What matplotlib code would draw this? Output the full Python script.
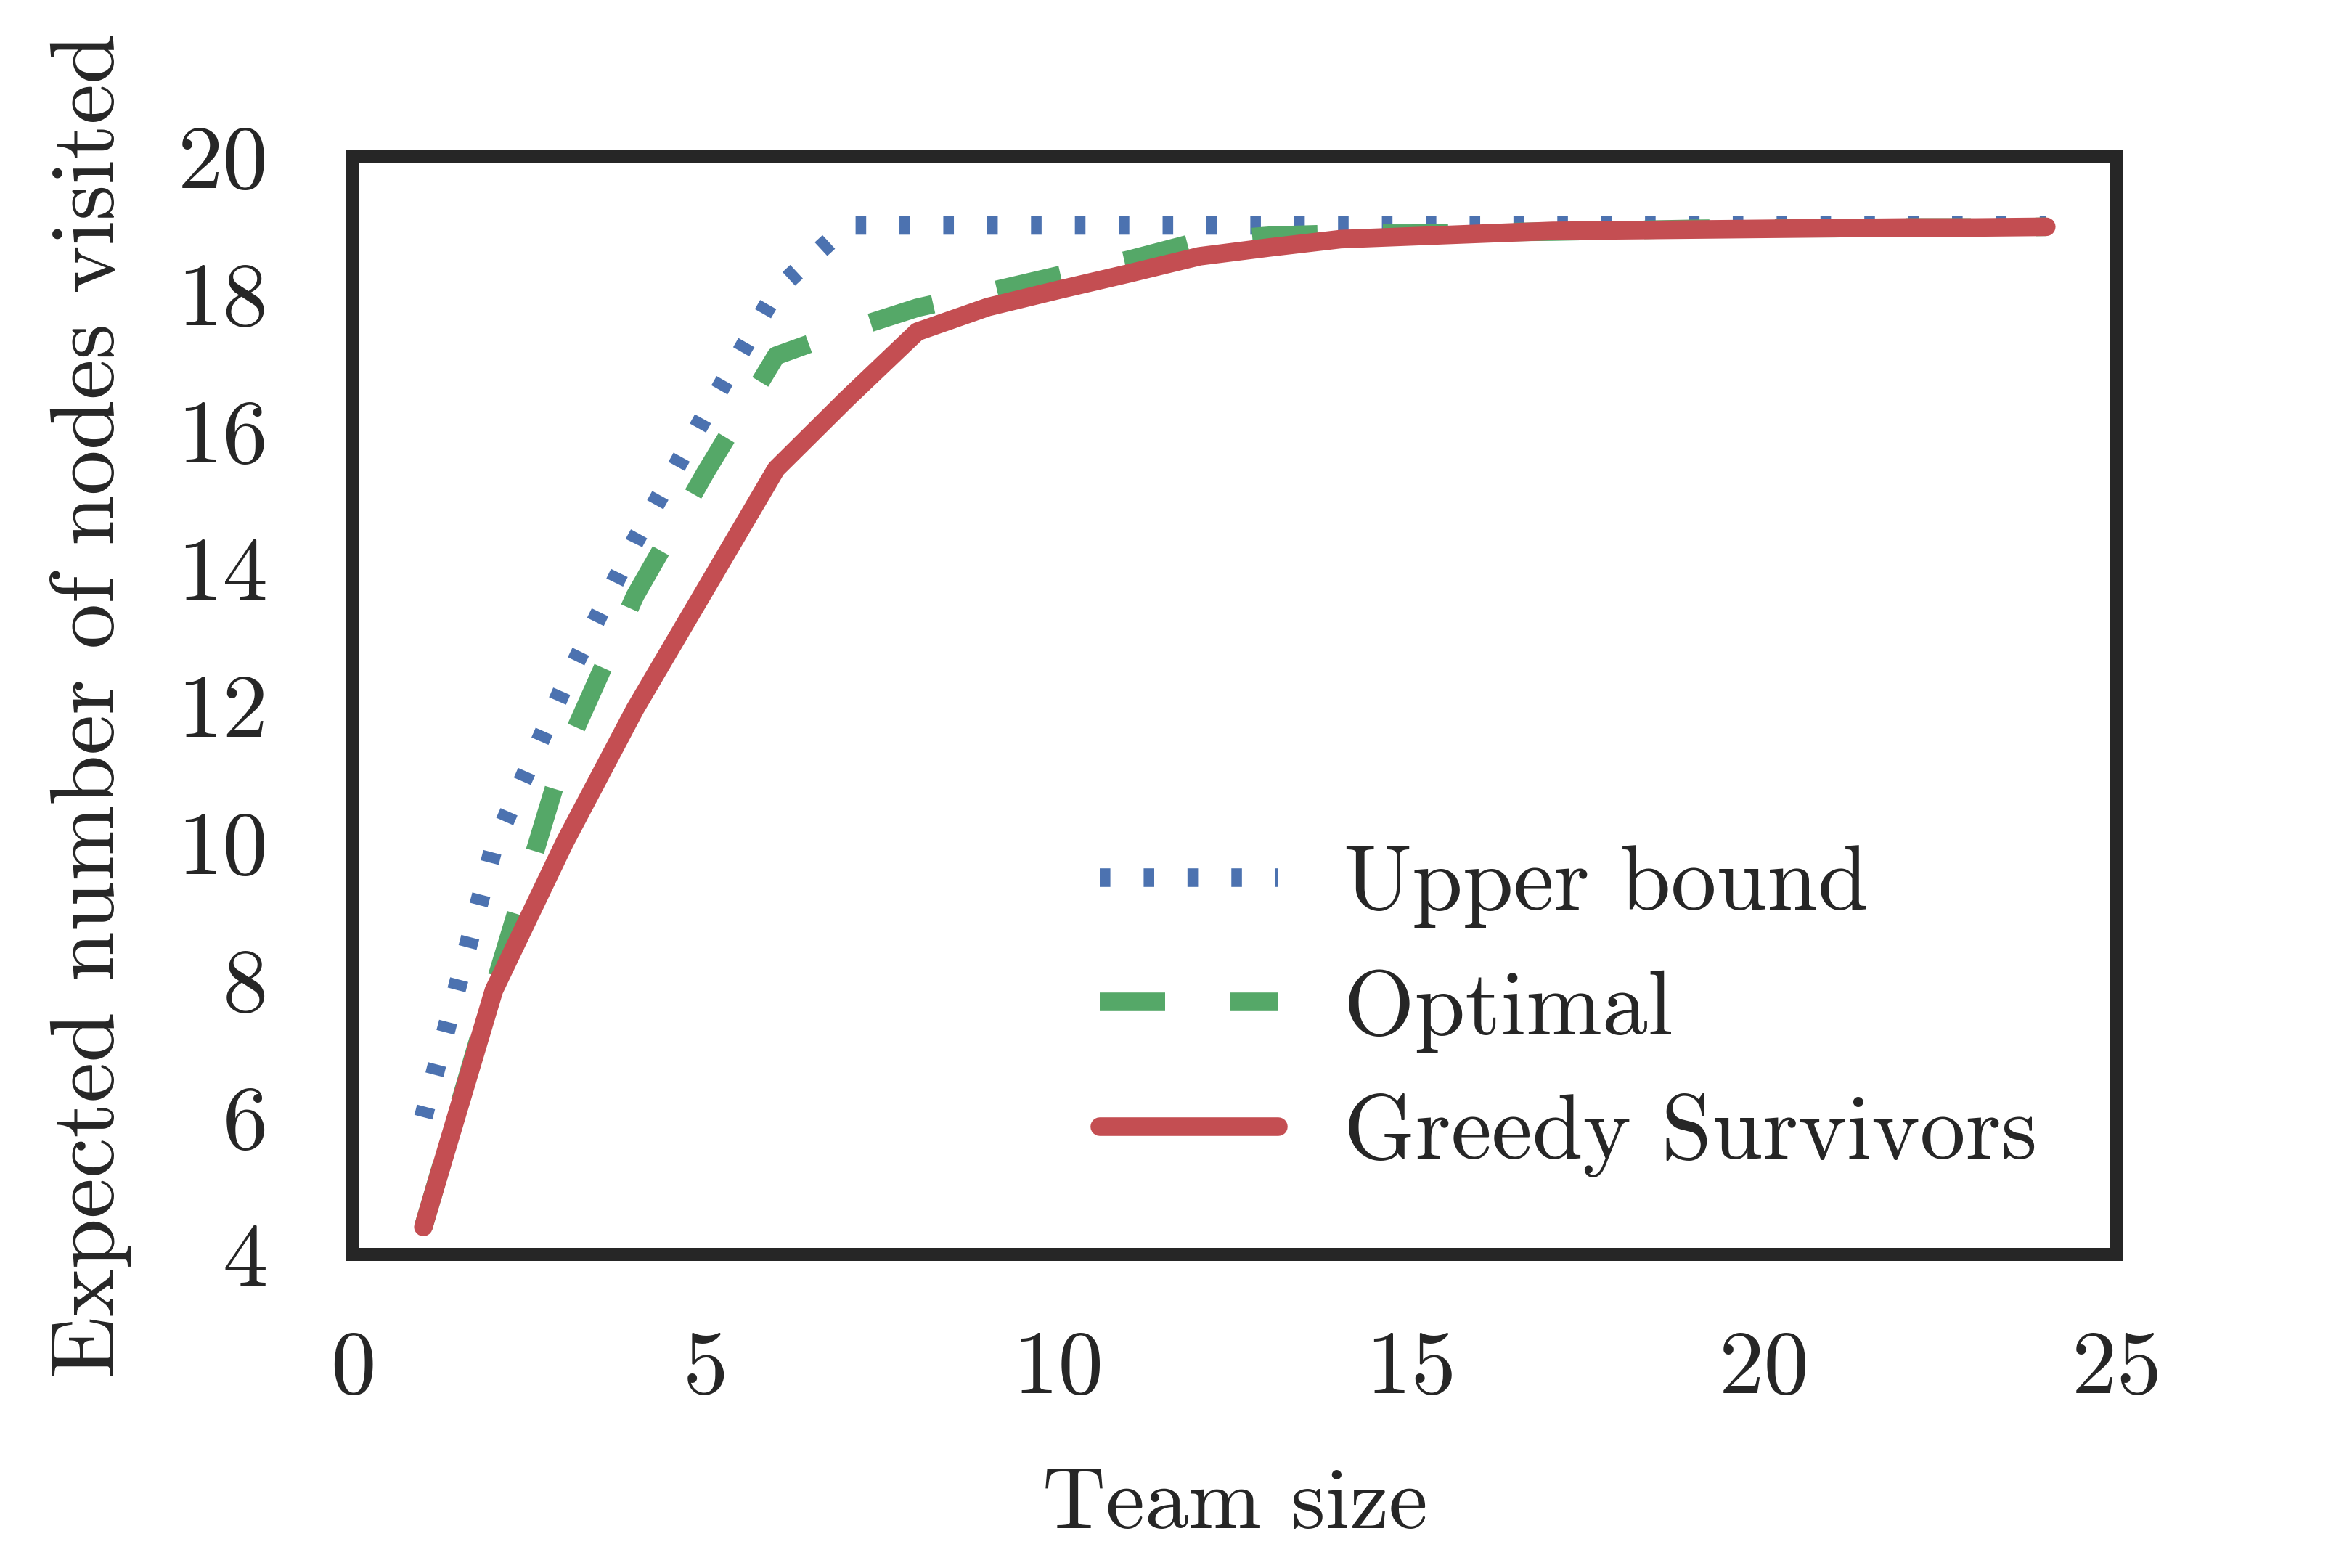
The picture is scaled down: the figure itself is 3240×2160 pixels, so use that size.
import matplotlib
matplotlib.use("Agg")
import matplotlib.pyplot as plt

# ---- data ----
team_size = list(range(1, 25))
upper_bound = [6.0, 9.95, 12.3, 14.4, 16.25, 18.05, 19.0, 19.0, 19.0, 19.0, 19.0, 19.0,
               19.0, 19.0, 19.0, 19.0, 19.0, 19.0, 19.0, 19.0, 19.0, 19.0, 19.0, 19.0]
optimal = [4.4, 7.9, 11.3, 13.6, 15.4, 17.1, 17.47, 17.8, 18.03, 18.27, 18.5, 18.77,
           18.85, 18.88, 18.88, 18.9, 18.91, 18.93, 18.95, 18.96, 18.96, 18.97, 18.97, 18.98]
greedy = [4.4, 7.85, 10.0, 11.95, 13.7, 15.45, 16.47, 17.45, 17.81, 18.06, 18.3, 18.55,
          18.68, 18.8, 18.84, 18.88, 18.92, 18.93, 18.94, 18.95, 18.96, 18.97, 18.97, 18.98]
series_labels = ["Upper bound", "Optimal", "Greedy Survivors"]
x_ticks = [0, 5, 10, 15, 20, 25]
y_ticks = [4, 6, 8, 10, 12, 14, 16, 18, 20]
x_label = "Team size"
y_label = "Expected number of nodes visited"

# ---- style ----
plt.rcParams['font.family'] = ['cmr10', 'DejaVu Serif']
plt.rcParams['lines.scale_dashes'] = False
text_color = '#262626'
blue, green, red = '#4C72B0', '#55A868', '#C44E52'

fig = plt.figure(figsize=(10.8, 7.2), dpi=300)
ax = fig.add_axes([0.15, 0.2, 0.75, 0.7])

lw = 6.14
ax.plot(team_size, upper_bound, color=blue, lw=lw, dashes=(3.5, 11.0),
        dash_capstyle='butt', label=series_labels[0])
ax.plot(team_size, optimal, color=green, lw=lw, dashes=(21.6, 21.6),
        dash_capstyle='butt', label=series_labels[1])
ax.plot(team_size, greedy, color=red, lw=lw, solid_capstyle='round',
        label=series_labels[2])

ax.set_xlim(0, 25)
ax.set_ylim(4, 20)
ax.set_xticks(x_ticks)
ax.set_xticklabels([str(t) for t in x_ticks])
ax.set_yticks(y_ticks)
ax.set_yticklabels([str(t) for t in y_ticks])
ax.tick_params(axis='both', length=0, labelsize=30, colors=text_color)
ax.tick_params(axis='x', pad=25)
ax.tick_params(axis='y', pad=28)

for sp in ax.spines.values():
    sp.set_linewidth(4.32)
    sp.set_color(text_color)

ax.set_xlabel(x_label, fontsize=29, color=text_color)
ax.set_ylabel(y_label, fontsize=30, color=text_color)
ax.xaxis.set_label_coords(0.5, -0.194)
ax.yaxis.set_label_coords(-0.1255, 0.5)

ax.legend(loc='lower right', bbox_to_anchor=(0.955, 0.07), frameon=False,
          fontsize=30.2, handlelength=1.95, handletextpad=0.72, labelspacing=0.45,
          borderaxespad=0, borderpad=0, labelcolor=text_color)

fig.savefig("out.png", dpi=300, facecolor='white')
